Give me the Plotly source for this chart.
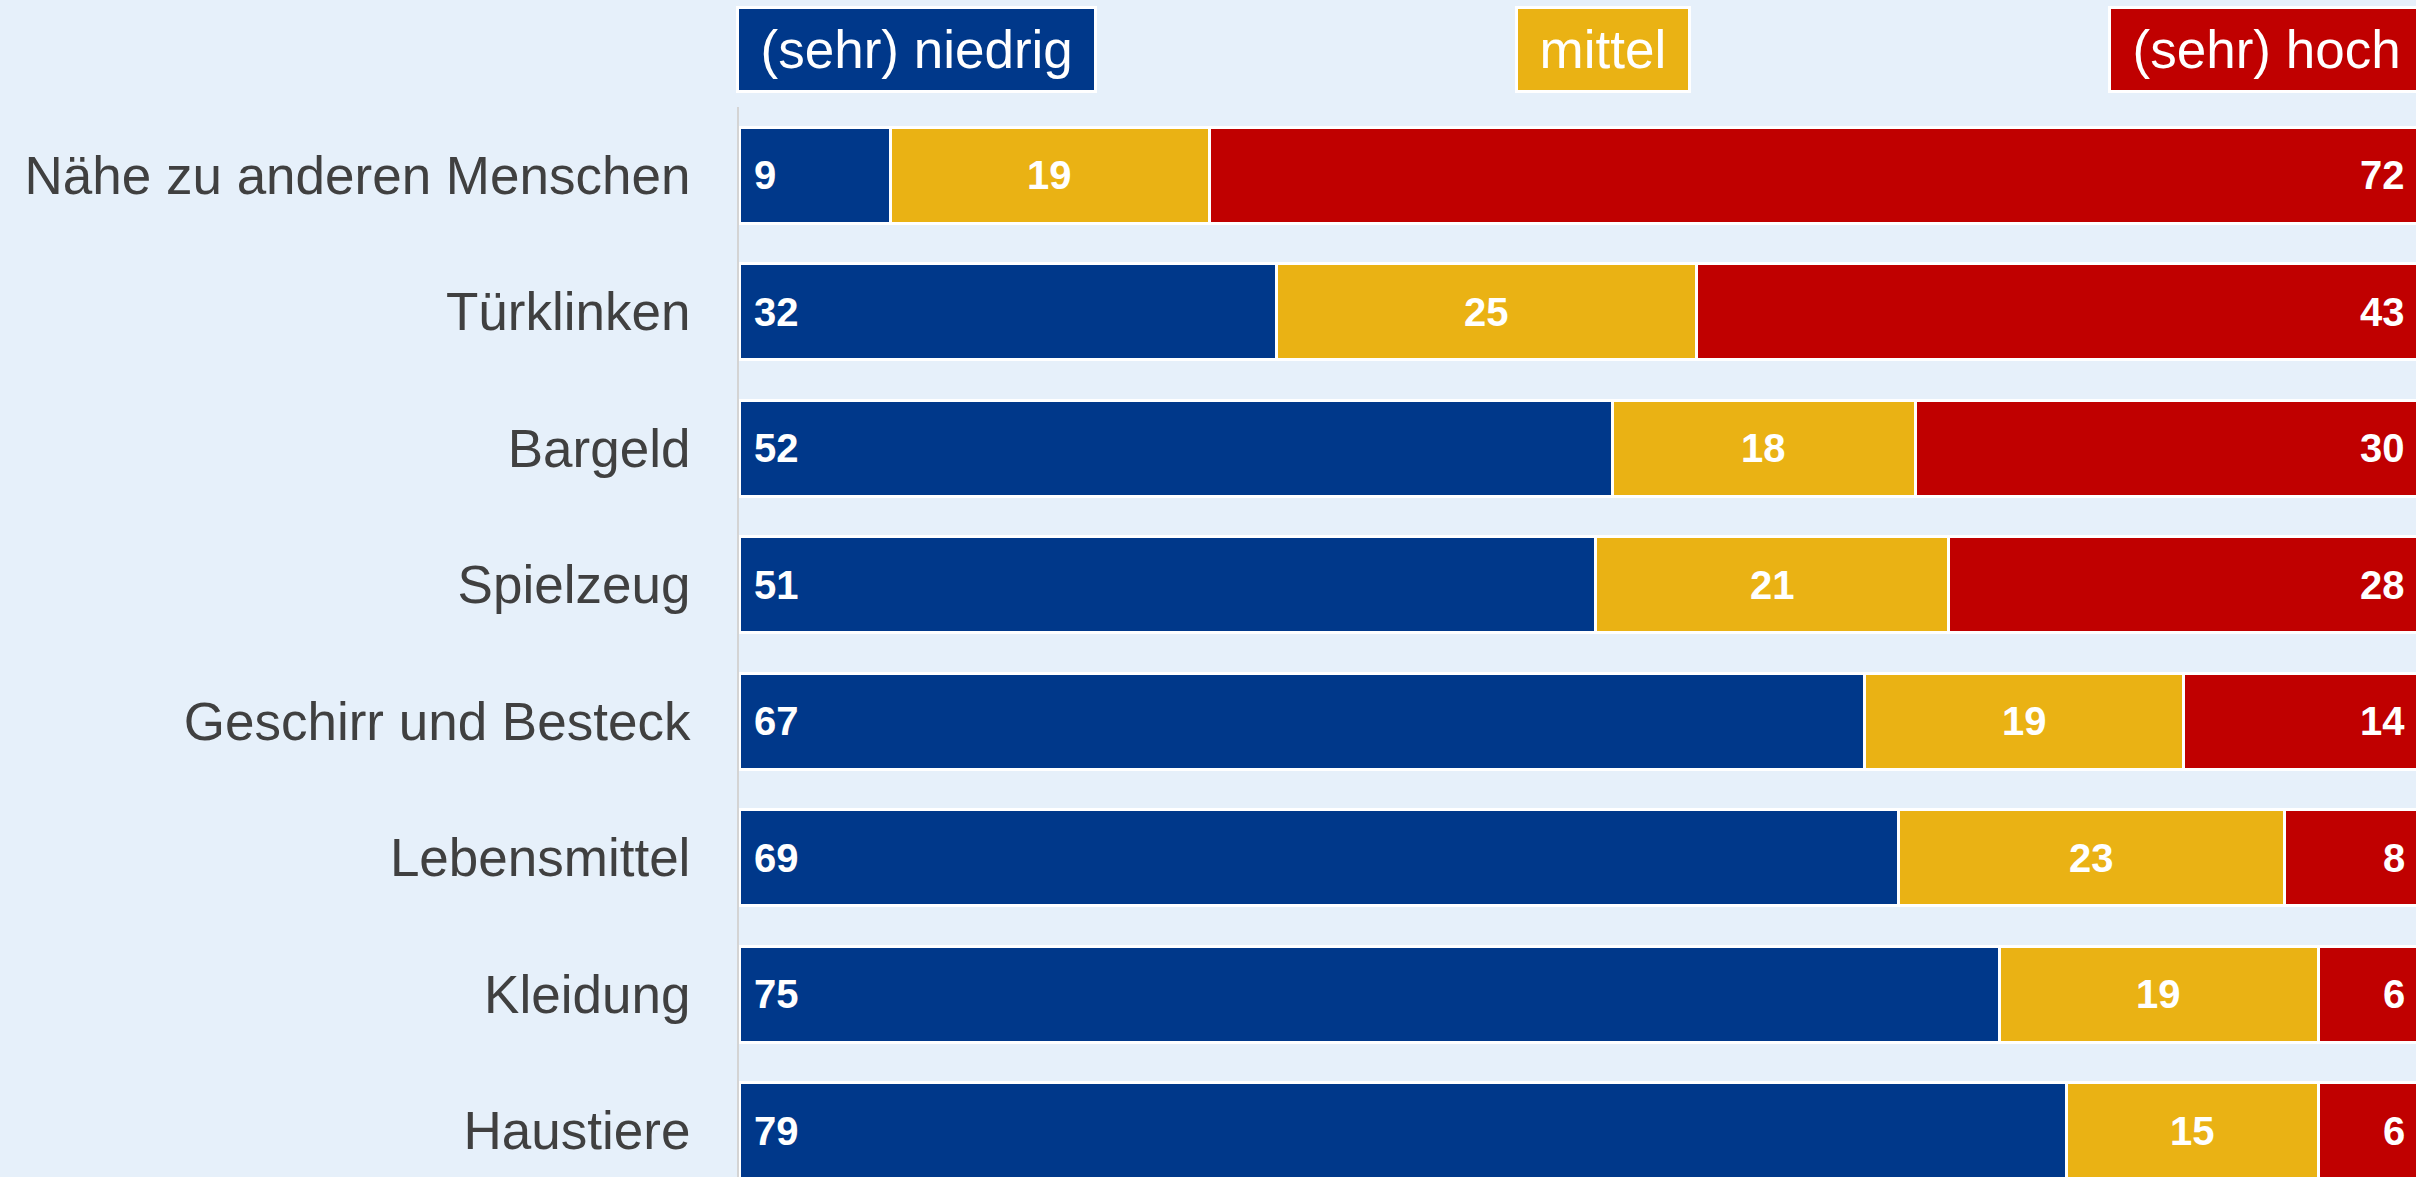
import plotly.graph_objects as go

categories = ["Nähe zu anderen Menschen", "Türklinken", "Bargeld", "Spielzeug",
              "Geschirr und Besteck", "Lebensmittel", "Kleidung", "Haustiere"]
niedrig = [9, 32, 52, 51, 67, 69, 75, 79]
mittel = [19, 25, 18, 21, 19, 23, 19, 15]
hoch = [72, 43, 30, 28, 14, 8, 6, 6]
series_names = ["(sehr) niedrig", "mittel", "(sehr) hoch"]
colors = ["#00388A", "#EAB214", "#C00000"]
BG = "#E6F0FA"
FONT = "Liberation Sans, Arial, sans-serif"

fig = go.Figure()
for name, vals, col in zip(series_names, [niedrig, mittel, hoch], colors):
    fig.add_trace(go.Bar(
        y=categories, x=vals, name=name, orientation="h",
        marker=dict(color=col, line=dict(color="white", width=3)),
        showlegend=False, hoverinfo="x+y"))

ann = []
for i, cat in enumerate(categories):
    ann.append(dict(x=0, y=cat, xref="x", yref="y", text=f"<b>{niedrig[i]}</b>",
                    showarrow=False, xanchor="left", xshift=13,
                    font=dict(family=FONT, size=40, color="white")))
    ann.append(dict(x=niedrig[i] + mittel[i] / 2, y=cat, xref="x", yref="y",
                    text=f"<b>{mittel[i]}</b>", showarrow=False, xanchor="center",
                    font=dict(family=FONT, size=40, color="white")))
    # red segment ends at the right plot edge (stack total = 100)
    ann.append(dict(x=1.0, y=cat, xref="paper", yref="y",
                    text=f"<b>{hoch[i]}</b>", showarrow=False, xanchor="right", xshift=-9,
                    font=dict(family=FONT, size=40, color="white")))

# legend boxes
leg_pos = [(0.0, "left", -3), (0.515, "center", 0), (1.0, "right", 9)]
for name, col, (px, anc, sh) in zip(series_names, colors, leg_pos):
    ann.append(dict(x=px, y=1.0542, xref="paper", yref="paper",
                    text="\u2009" + name + "\u2009", showarrow=False,
                    xanchor=anc, yanchor="middle", xshift=sh,
                    bgcolor=col, bordercolor="white", borderwidth=3, borderpad=11,
                    font=dict(family=FONT, size=53, color="white")))

fig.update_layout(
    barmode="stack", bargap=0.3,
    width=2416, height=1177,
    margin=dict(l=739, r=0, t=107, b=0, pad=0),
    paper_bgcolor=BG, plot_bgcolor=BG,
    font=dict(family=FONT),
    annotations=ann,
    xaxis=dict(range=[0, 99.82], showgrid=False, zeroline=False,
               showticklabels=False, fixedrange=True),
    yaxis=dict(categoryorder="array", categoryarray=categories,
               range=[7.339, -0.5], showgrid=False, zeroline=False,
               showline=True, linecolor="#D4D4D4", linewidth=2,
               ticks="outside", ticklen=36, tickcolor="rgba(0,0,0,0)",
               tickfont=dict(family=FONT, size=53, color="#404040")),
)

fig.write_html("out.html", config={"displayModeBar": False},
               post_script="document.body.style.margin='0px';document.body.style.overflow='hidden';")
